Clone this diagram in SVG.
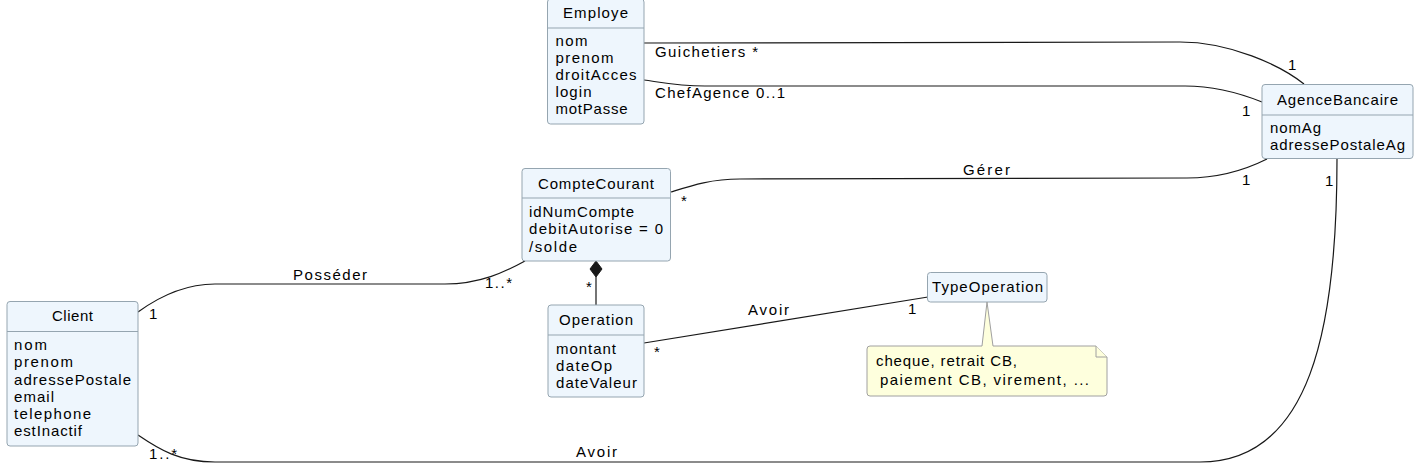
<svg xmlns="http://www.w3.org/2000/svg" width="1416" height="471" viewBox="0 0 1416 471">
<style>
text{font-family:"Liberation Sans",Arial,sans-serif;font-size:15px;fill:#000000}
.box{fill:#eef6fd;stroke:#95a5b0;stroke-width:1}
.div{stroke:#95a5b0;stroke-width:1}
.note{fill:#feffdd;stroke:#a0a0a0;stroke-width:1}
.ln{fill:none;stroke:#181818;stroke-width:1.2}
</style>
<rect width="1416" height="471" fill="#ffffff"/>
<g id="connectors">
<path class="ln" d="M644,43 L1180,42 C1230,42 1280,65 1304,84"/>
<path class="ln" d="M644,80 C665,83 680,86 705,86 L1185,86 C1215,86 1242,94 1262,102"/>
<path class="ln" d="M671,192 C690,186 710,179 740,179 L1187,178 C1220,178 1245,170 1267,159"/>
<path class="ln" d="M138,312 C160,296 185,284 215,284 L445,284 C480,284 505,272 525,261"/>
<path class="ln" d="M138,435 C160,450 180,462 215,462 L1200,462 C1310,462 1337,330 1337,159"/>
<path class="ln" d="M596,277 L596,305"/>
<polygon points="596,261 602,269 596,277 590,269" fill="#181818" stroke="#181818"/>
<path class="ln" d="M644,343 L928,297"/>
<text x="655" y="57" textLength="103" lengthAdjust="spacing">Guichetiers *</text>
<text x="655" y="98" textLength="130" lengthAdjust="spacing">ChefAgence 0..1</text>
<text x="1288" y="70">1</text>
<text x="1242" y="116">1</text>
<text x="963" y="175" textLength="47" lengthAdjust="spacing">Gérer</text>
<text x="681" y="206">*</text>
<text x="1242" y="185">1</text>
<text x="1325" y="186">1</text>
<text x="293" y="280" textLength="74" lengthAdjust="spacing">Posséder</text>
<text x="485" y="288" textLength="27" lengthAdjust="spacing">1..*</text>
<text x="149" y="319">1</text>
<text x="586" y="292">*</text>
<text x="149" y="459" textLength="28" lengthAdjust="spacing">1..*</text>
<text x="576" y="457" textLength="41" lengthAdjust="spacing">Avoir</text>
<text x="748" y="315" textLength="41" lengthAdjust="spacing">Avoir</text>
<text x="654" y="357">*</text>
<text x="908" y="314">1</text>
</g>
<g id="Employe">
<rect class="box" x="547.5" y="-1" width="96.5" height="125" rx="3"/>
<line class="div" x1="547.5" y1="28" x2="644" y2="28"/>
<text x="563" y="18" textLength="65" lengthAdjust="spacing">Employe</text>
<text x="555.5" y="46" textLength="32" lengthAdjust="spacing">nom</text>
<text x="555.5" y="63" textLength="58" lengthAdjust="spacing">prenom</text>
<text x="555.5" y="80" textLength="81" lengthAdjust="spacing">droitAcces</text>
<text x="555.5" y="97" textLength="36" lengthAdjust="spacing">login</text>
<text x="555.5" y="114" textLength="72" lengthAdjust="spacing">motPasse</text>
</g>
<g id="AgenceBancaire">
<rect class="box" x="1262" y="84.5" width="151" height="74" rx="3"/>
<line class="div" x1="1262" y1="115" x2="1413" y2="115"/>
<text x="1277" y="105" textLength="121" lengthAdjust="spacing">AgenceBancaire</text>
<text x="1270" y="133" textLength="51" lengthAdjust="spacing">nomAg</text>
<text x="1270" y="150" textLength="135" lengthAdjust="spacing">adressePostaleAg</text>
</g>
<g id="CompteCourant">
<rect class="box" x="522" y="168.5" width="148.5" height="92.5" rx="3"/>
<line class="div" x1="522" y1="198" x2="670.5" y2="198"/>
<text x="538" y="189" textLength="116" lengthAdjust="spacing">CompteCourant</text>
<text x="529" y="217" textLength="105" lengthAdjust="spacing">idNumCompte</text>
<text x="529" y="234" textLength="134" lengthAdjust="spacing">debitAutorise = 0</text>
<text x="529" y="252" textLength="48" lengthAdjust="spacing">/solde</text>
</g>
<g id="Client">
<rect class="box" x="7" y="301.5" width="131" height="144.5" rx="3"/>
<line class="div" x1="7" y1="331.5" x2="138" y2="331.5"/>
<text x="52" y="321" textLength="41" lengthAdjust="spacing">Client</text>
<text x="14" y="350" textLength="33" lengthAdjust="spacing">nom</text>
<text x="14" y="367" textLength="59" lengthAdjust="spacing">prenom</text>
<text x="14" y="385" textLength="117" lengthAdjust="spacing">adressePostale</text>
<text x="14" y="402" textLength="40" lengthAdjust="spacing">email</text>
<text x="14" y="419" textLength="77" lengthAdjust="spacing">telephone</text>
<text x="14" y="436" textLength="68" lengthAdjust="spacing">estInactif</text>
</g>
<g id="Operation">
<rect class="box" x="548" y="305" width="96" height="92" rx="3"/>
<line class="div" x1="548" y1="335" x2="644" y2="335"/>
<text x="559" y="325" textLength="74" lengthAdjust="spacing">Operation</text>
<text x="556" y="354" textLength="60" lengthAdjust="spacing">montant</text>
<text x="556" y="371" textLength="56" lengthAdjust="spacing">dateOp</text>
<text x="556" y="388" textLength="81" lengthAdjust="spacing">dateValeur</text>
</g>
<g id="TypeOperation">
<rect class="box" x="927.5" y="272.5" width="119.5" height="29.5" rx="3"/>
<text x="932" y="292" textLength="111" lengthAdjust="spacing">TypeOperation</text>
</g>
<g id="note">
<path class="note" d="M870,346 L982,346 L987,302 L993,346 L1096,346 L1107,357 L1107,393 A3,3 0 0 1 1104,396 L870,396 A3,3 0 0 1 867,393 L867,349 A3,3 0 0 1 870,346 Z"/>
<path class="note" d="M1096,346 L1096,357 L1107,357"/>
<text x="876" y="366" textLength="141" lengthAdjust="spacing">cheque, retrait CB,</text>
<text x="880" y="385" textLength="209" lengthAdjust="spacing">paiement CB, virement, ...</text>
</g>
</svg>
